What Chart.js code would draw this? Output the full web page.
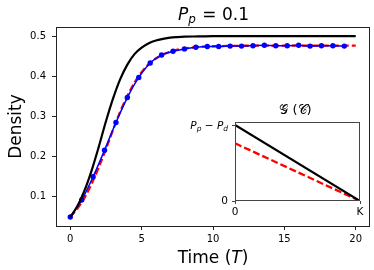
<!DOCTYPE html>
<html>
<head>
<meta charset="utf-8">
<script src="https://cdn.jsdelivr.net/npm/chart.js@4.4.1/dist/chart.umd.min.js"></script>
<style>
html,body{margin:0;padding:0;background:#fff;}
#wrap{position:relative;width:374px;height:270px;}
#main{position:absolute;left:0;top:0;}
#inset{position:absolute;left:179px;top:95px;}
</style>
</head>
<body>
<div id="wrap">
<canvas id="main" width="374" height="270"></canvas>
<canvas id="inset" width="194" height="130"></canvas>
</div>
<script>
// ---- data ----
const BLACK_T = [0,0.5,1,1.5,2,2.5,3,3.5,4,4.5,5,5.5,6,6.5,7,7.5,8,9,10,12,15,20];
const BLACK_V = [0.05,0.077,0.116,0.166,0.225,0.288,0.345,0.393,0.429,0.455,0.471,0.482,0.489,0.493,0.496,0.4975,0.4985,0.499,0.4998,0.5,0.5,0.5];

const RED_T = [0,0.5,1,1.5,2,2.5,3,3.5,4,4.5,5,5.5,6,6.5,7,7.5,8,9,10,11,12,14,20];
const RED_V = [0.05,0.071,0.098,0.133,0.174,0.219,0.267,0.312,0.351,0.384,0.410,0.430,0.444,0.454,0.461,0.466,0.469,0.473,0.4746,0.4754,0.4758,0.476,0.476];

const BLUE_T = [0,0.8,1.6,2.4,3.2,4.0,4.8,5.6,6.4,7.2,8.0,8.8,9.6,10.4,11.2,12.0,12.8,13.6,14.4,15.2,16.0,16.8,17.6,18.4,19.2];
const BLUE_V = [0.05,0.092,0.150,0.216,0.285,0.347,0.397,0.433,0.453,0.462,0.468,0.472,0.474,0.474,0.475,0.475,0.476,0.477,0.476,0.476,0.477,0.475,0.476,0.476,0.475];

const X_TICKS = [0,5,10,15,20];
const Y_TICKS = [0.1,0.2,0.3,0.4,0.5];

// inset
const INSET_X = [0,1];
const INSET_BLACK = [1,0];
const INSET_RED = [0.76,0];
const INSET_X_TICKS = [0,1];
const INSET_X_LABELS = ['0','K'];
const INSET_Y_TICKS = [0,1];
const INSET_Y_LABELS = ['0',''];

const FONT = "'DejaVu Sans', sans-serif";
const pts = (xs, ys) => xs.map((x,i)=>({x:x,y:ys[i]}));

const mainDecor = {
  id:'mainDecor',
  beforeDraw(chart){
    const c = chart.ctx;
    c.save(); c.fillStyle='#fff'; c.fillRect(0,0,chart.width,chart.height); c.restore();
  },
  afterDraw(chart){
    const c = chart.ctx, a = chart.chartArea;
    c.save();
    c.strokeStyle='#222'; c.lineWidth=1;
    c.strokeRect(a.left+0.5, a.top+0.5, a.right-a.left-1, a.bottom-a.top);
    c.fillStyle='#000';
    c.textBaseline='alphabetic';
    // title P_p = 0.1
    const cx = (a.left+a.right)/2;
    const f1 = "italic 17px "+FONT, f2 = "italic 12px "+FONT, f3 = "17px "+FONT;
    c.font=f1; const w1=c.measureText('P').width;
    c.font=f2; const w2=c.measureText('p').width;
    c.font=f3; const w3=c.measureText(' = 0.1').width;
    let x = cx-(w1+w2+w3)/2, by=19.5;
    c.font=f1; c.fillText('P',x,by); x+=w1;
    c.font=f2; c.fillText('p',x,by+3.5); x+=w2+1;
    c.font=f3; c.fillText(' = 0.1',x,by);
    // x title
    const g1="17px "+FONT, g2="italic 17px "+FONT;
    c.font=g1; const a1=c.measureText('Time (').width, a3=c.measureText(')').width;
    c.font=g2; const a2=c.measureText('T').width;
    x = cx-(a1+a2+a3)/2; by=263;
    c.font=g1; c.fillText('Time (',x,by); x+=a1;
    c.font=g2; c.fillText('T',x,by); x+=a2;
    c.font=g1; c.fillText(')',x,by);
    // y title
    c.translate(21,(a.top+a.bottom)/2);
    c.rotate(-Math.PI/2);
    c.font="17px "+FONT; c.textAlign='center';
    c.fillText('Density',0,0);
    c.restore();
  }
};

new Chart(document.getElementById('main'),{
  type:'line',
  data:{datasets:[
    {data:pts(BLACK_T,BLACK_V),borderColor:'#000',borderWidth:2.2,pointRadius:0,cubicInterpolationMode:'monotone',fill:false},
    {data:pts(BLUE_T,BLUE_V),borderColor:'#0000ff',backgroundColor:'#0000ff',borderWidth:1.5,pointRadius:2.7,pointBorderWidth:0,pointBackgroundColor:'#0000ff',cubicInterpolationMode:'monotone',fill:false},
    {data:pts(RED_T,RED_V),borderColor:'#ff0000',borderWidth:2.3,borderDash:[7,3],pointRadius:0,cubicInterpolationMode:'monotone',fill:false}
  ]},
  options:{
    responsive:false,animation:false,devicePixelRatio:1,
    layout:{padding:{left:0,right:4,top:27,bottom:0}},
    plugins:{legend:{display:false},tooltip:{enabled:false},title:{display:false}},
    scales:{
      x:{type:'linear',min:-1,max:21,
        afterBuildTicks:s=>{s.ticks=X_TICKS.map(v=>({value:v}));},
        afterFit:s=>{s.height=44;},
        grid:{drawOnChartArea:false,drawTicks:true,tickLength:4,color:'#222',tickWidth:1},
        border:{display:false},
        ticks:{font:{family:"'DejaVu Sans'",size:10},color:'#000',padding:3,maxRotation:0,autoSkip:false,callback:v=>String(v)}},
      y:{type:'linear',min:0.0275,max:0.5225,
        afterBuildTicks:s=>{s.ticks=Y_TICKS.map(v=>({value:v}));},
        afterFit:s=>{s.width=56;},
        grid:{drawOnChartArea:false,drawTicks:true,tickLength:4,color:'#222',tickWidth:1},
        border:{display:false},
        ticks:{font:{family:"'DejaVu Sans'",size:10},color:'#000',padding:6,autoSkip:false,callback:v=>v.toFixed(1)}}
    }
  },
  plugins:[mainDecor]
});

const insetDecor = {
  id:'insetDecor',
  beforeDatasetsDraw(chart){
    const c=chart.ctx,a=chart.chartArea;
    c.save(); c.fillStyle='#fff'; c.fillRect(a.left,a.top,a.right-a.left,a.bottom-a.top); c.restore();
  },
  afterDraw(chart){
    const c=chart.ctx,a=chart.chartArea;
    c.save();
    c.strokeStyle='#444'; c.lineWidth=1;
    c.strokeRect(a.left+0.5,a.top+0.5,a.right-a.left-1,a.bottom-a.top-1);
    c.fillStyle='#000'; c.textBaseline='alphabetic';
    // title G(C)
    c.font="13px 'DejaVu Sans', 'DejaVu Serif', serif";
    c.textAlign='center';
    c.fillText('\u{1D4A2} (\u{1D49E})',(a.left+a.right)/2-2,a.top-8);
    // y tick label P_p - P_d
    const ys = chart.scales.y.getPixelForValue(1);
    const f1="italic 10.5px "+FONT,f2="italic 7.5px "+FONT,f3="10.5px "+FONT;
    c.textAlign='left';
    c.font=f1; const wP=c.measureText('P').width;
    c.font=f2; const wp=c.measureText('p').width, wd=c.measureText('d').width;
    c.font=f3; const wm=c.measureText(' \u2212 ').width;
    const total=wP+wp+wm+wP+wd;
    let x=a.left-7-total, by=ys+3.5;
    c.font=f1; c.fillText('P',x,by); x+=wP;
    c.font=f2; c.fillText('p',x,by+2.5); x+=wp;
    c.font=f3; c.fillText(' \u2212 ',x,by); x+=wm;
    c.font=f1; c.fillText('P',x,by); x+=wP;
    c.font=f2; c.fillText('d',x,by+2.5);
    c.restore();
  }
};

new Chart(document.getElementById('inset'),{
  type:'line',
  data:{datasets:[
    {data:pts(INSET_X,INSET_BLACK),borderColor:'#000',borderWidth:2.2,pointRadius:0,fill:false},
    {data:pts(INSET_X,INSET_RED),borderColor:'#ff0000',borderWidth:2.3,borderDash:[7,3],pointRadius:0,fill:false}
  ]},
  options:{
    responsive:false,animation:false,devicePixelRatio:1,
    layout:{padding:{left:0,right:13,top:27,bottom:0}},
    plugins:{legend:{display:false},tooltip:{enabled:false}},
    scales:{
      x:{type:'linear',min:0,max:1,
        afterBuildTicks:s=>{s.ticks=INSET_X_TICKS.map(v=>({value:v}));},
        afterFit:s=>{s.height=24;},
        grid:{drawOnChartArea:false,drawTicks:true,tickLength:3,color:'#444'},
        border:{display:false},
        ticks:{font:{family:"'DejaVu Sans'",size:10.5},color:'#000',padding:2,maxRotation:0,autoSkip:false,
          callback:(v)=>INSET_X_LABELS[INSET_X_TICKS.indexOf(v)]}},
      y:{type:'linear',min:0,max:1.04,
        afterBuildTicks:s=>{s.ticks=INSET_Y_TICKS.map(v=>({value:v}));},
        afterFit:s=>{s.width=56;},
        grid:{drawOnChartArea:false,drawTicks:true,tickLength:3,color:'#444'},
        border:{display:false},
        ticks:{font:{family:"'DejaVu Sans'",size:10.5},color:'#000',padding:4,autoSkip:false,
          callback:(v)=>INSET_Y_LABELS[INSET_Y_TICKS.indexOf(v)]}}
    }
  },
  plugins:[insetDecor]
});
</script>
</body>
</html>
